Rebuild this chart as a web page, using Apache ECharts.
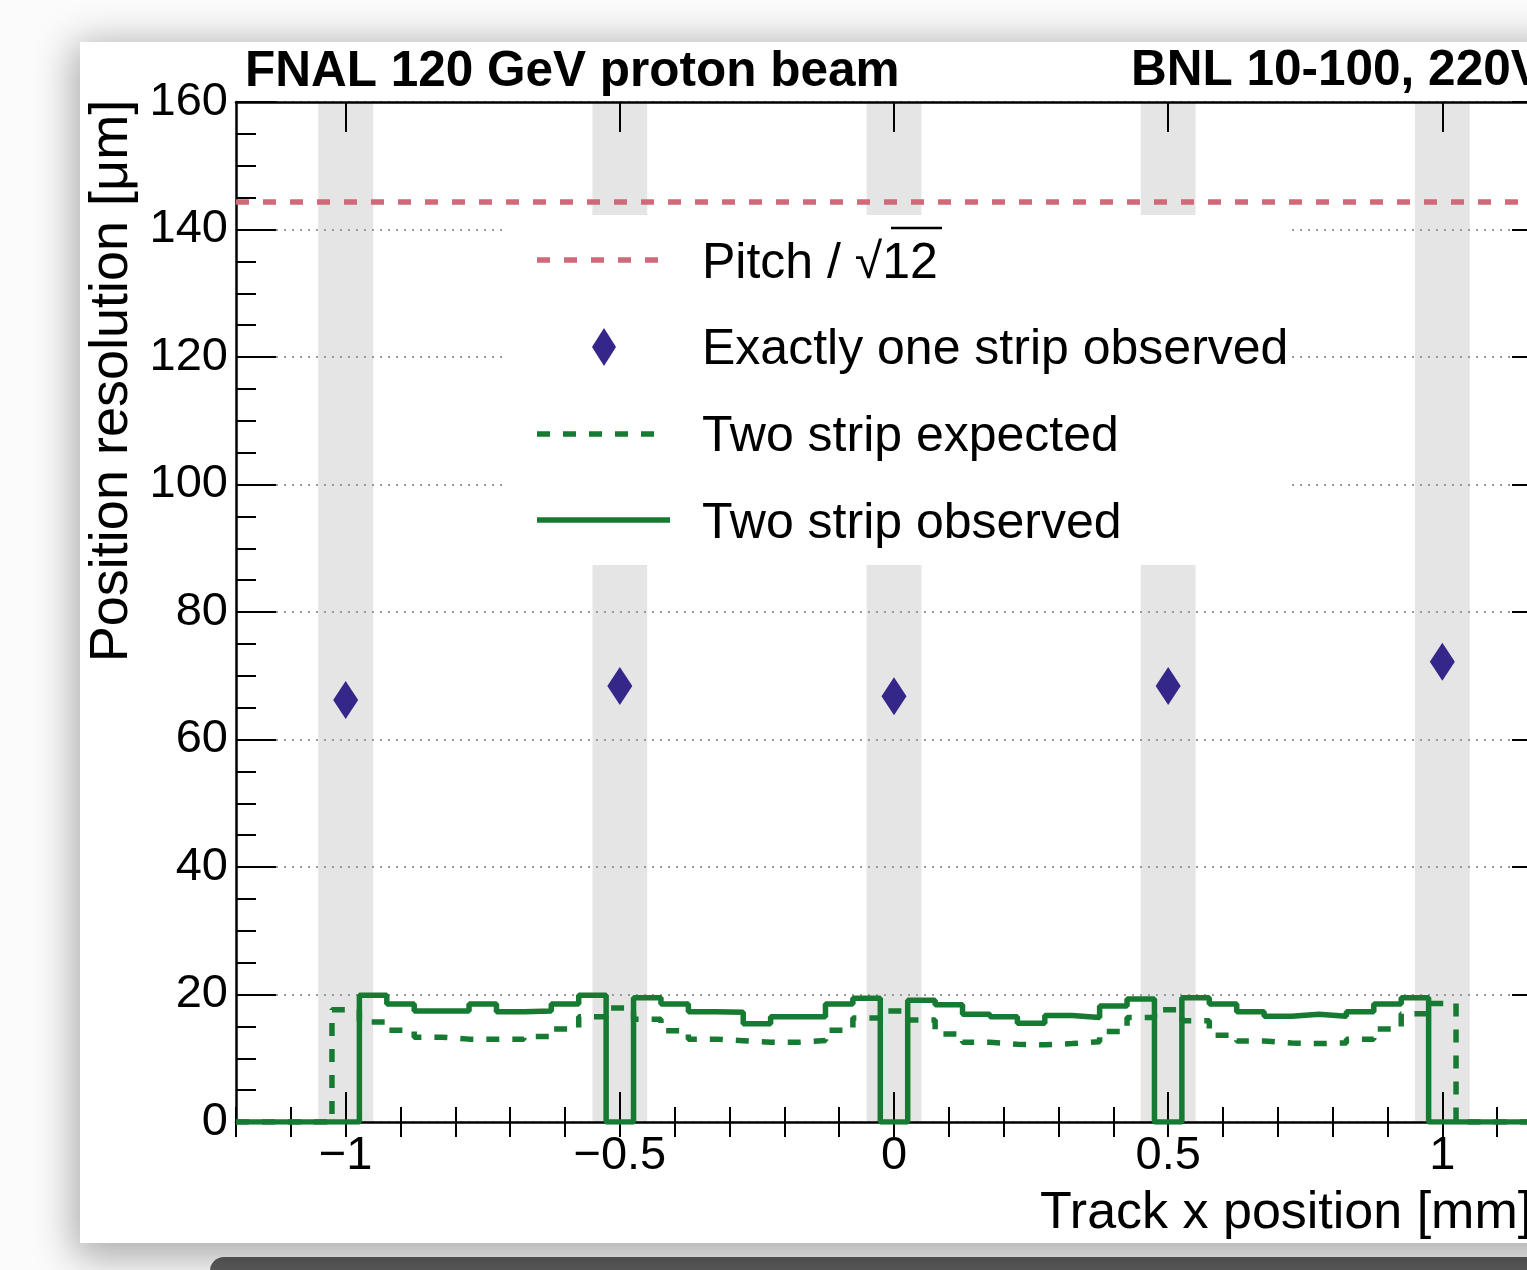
<!DOCTYPE html>
<html>
<head>
<meta charset="utf-8">
<script src="https://cdn.jsdelivr.net/npm/echarts@6/dist/echarts.min.js"></script>
<style>
html, body { margin:0; padding:0; overflow:hidden; width:1527px; height:1270px; background:#fbfbfb; }
.bar { position:absolute; left:210px; top:1257px; width:1400px; height:40px; background:#5d5d5d; border-radius:14px 0 0 0; }
.paper { position:absolute; left:80px; top:42px; width:1600px; height:1201px; background:#fff; box-shadow:0 8px 38px 6px rgba(0,0,0,0.33); }
#chart { position:absolute; left:0; top:0; width:1600px; height:1270px; }
</style>
</head>
<body>
<div class="bar"></div>
<div class="paper"></div>
<div id="chart"></div>
<script>
// strips and single strip resolution
var stripPos = [-1, -0.5, 0, 0.5, 1];
var oneStrip = [66.2, 68.4, 66.8, 68.4, 72.2];

// histogram bins (centres, mm)
var binCenters = [-1.00, -0.95, -0.90, -0.85, -0.80, -0.75, -0.70, -0.65, -0.60, -0.55,
  -0.50, -0.45, -0.40, -0.35, -0.30, -0.25, -0.20, -0.15, -0.10, -0.05,
  0.00, 0.05, 0.10, 0.15, 0.20, 0.25, 0.30, 0.35, 0.40, 0.45,
  0.50, 0.55, 0.60, 0.65, 0.70, 0.75, 0.80, 0.85, 0.90, 0.95, 1.00];

var twoObserved = [0, 19.9, 18.5, 17.4, 17.4, 18.5, 17.3, 17.4, 18.5, 19.9,
  0, 19.5, 18.5, 17.3, 17.2, 15.4, 16.5, 16.5, 18.5, 19.4,
  0, 19.1, 18.4, 16.9, 16.5, 15.5, 16.7, 16.4, 18.2, 19.3,
  0, 19.5, 18.5, 17.3, 16.6, 16.9, 16.6, 17.3, 18.5, 19.5, 0];

var twoExpected = [17.6, 15.7, 14.4, 13.3, 13.0, 13.0, 13.0, 13.4, 14.6, 16.5,
  17.9, 16.1, 14.3, 13.0, 12.75, 12.5, 12.5, 12.8, 14.4, 16.3,
  17.4, 16.0, 13.8, 12.5, 12.2, 12.1, 12.3, 12.6, 14.2, 16.4,
  17.6, 15.9, 13.6, 12.7, 12.4, 12.3, 12.4, 13.0, 14.6, 17.0, 18.6];

var pitchRes = 144.3;   // 500 um / sqrt(12)
var xMajor = [-1, -0.5, 0, 0.5, 1];

var xMin = -1.2, xMax = 1.2, yMin = 0, yMax = 160;
var binW = 0.05, stripHalf = 0.05;
var green = '#177a32';
var FONT = '"Liberation Sans", Arial, sans-serif';

function stepPoints(vals) {
  var pts = [[xMin, 0]];
  for (var i = 0; i < binCenters.length; i++) {
    pts.push([binCenters[i] - binW / 2, vals[i]]);
  }
  pts.push([binCenters[binCenters.length - 1] + binW / 2, 0]);
  pts.push([xMax, 0]);
  return pts;
}

function fmt(v) {
  if (v < 0) return '\u2212' + Math.abs(v);
  return '' + v;
}

var chart = echarts.init(document.getElementById('chart'), null, { renderer: 'canvas' });

var blackLine = { show: true, onZero: false, lineStyle: { color: '#000', width: 2.5 } };

var option = {
  backgroundColor: 'transparent',
  animation: false,
  grid: { left: 236, top: 102, width: 1316, height: 1020, containLabel: false },
  xAxis: [
    {
      type: 'value', position: 'bottom', min: xMin, max: xMax,
      axisLine: blackLine,
      axisTick: { show: true, inside: true, length: 30, customValues: xMajor, lineStyle: { color: '#000', width: 2 } },
      axisLabel: { show: true, customValues: xMajor, formatter: fmt, margin: 34, verticalAlign: 'middle',
        fontFamily: FONT, fontSize: 47, color: '#000' },
      splitLine: { show: false }
    },
    {
      type: 'value', position: 'bottom', min: xMin, max: xMax, interval: 0.1,
      axisLine: { show: false },
      axisTick: { show: true, inside: true, length: 15, lineStyle: { color: '#000', width: 2 } },
      axisLabel: { show: false },
      splitLine: { show: false }
    },
    {
      type: 'value', position: 'top', min: xMin, max: xMax,
      axisLine: blackLine,
      axisTick: { show: true, inside: true, length: 30, customValues: xMajor, lineStyle: { color: '#000', width: 2 } },
      axisLabel: { show: false },
      splitLine: { show: false }
    },
    {
      type: 'value', position: 'top', min: xMin, max: xMax, interval: 0.1,
      axisLine: { show: false },
      axisTick: { show: true, inside: true, length: 15, lineStyle: { color: '#000', width: 2 } },
      axisLabel: { show: false },
      splitLine: { show: false }
    }
  ],
  yAxis: [
    {
      type: 'value', position: 'left', min: yMin, max: yMax, interval: 20,
      axisLine: blackLine,
      axisTick: { show: true, inside: true, length: 40, lineStyle: { color: '#000', width: 2 } },
      minorTick: { show: true, splitNumber: 4, length: 20, lineStyle: { color: '#000', width: 2 } },
      axisLabel: { show: true, margin: 8, fontFamily: FONT, fontSize: 47, color: '#000' },
      splitLine: { show: true, lineStyle: { color: '#9a9a9a', width: 2, type: [2, 6] } }
    },
    {
      type: 'value', position: 'right', min: yMin, max: yMax, interval: 20,
      axisLine: blackLine,
      axisTick: { show: true, inside: true, length: 40, lineStyle: { color: '#000', width: 2 } },
      minorTick: { show: true, splitNumber: 4, length: 20, lineStyle: { color: '#000', width: 2 } },
      axisLabel: { show: false },
      splitLine: { show: false }
    }
  ],
  series: [
    {
      name: 'strips', type: 'custom', z: -1, silent: true,
      xAxisIndex: 0, yAxisIndex: 0,
      data: stripPos.map(function (v) { return [v, yMax]; }),
      renderItem: function (params, api) {
        var x = api.value(0);
        var p1 = api.coord([x - stripHalf, yMax]);
        var p2 = api.coord([x + stripHalf, yMin]);
        return { type: 'rect', shape: { x: p1[0], y: p1[1], width: p2[0] - p1[0], height: p2[1] - p1[1] },
          style: { fill: '#e5e5e5' } };
      }
    },
    {
      name: 'Pitch / √12', type: 'line', symbol: 'none',
      data: [[xMin, pitchRes], [xMax, pitchRes]],
      lineStyle: { color: '#d06a7a', width: 5.5, type: [13, 14] }
    },
    {
      name: 'Two strip expected', type: 'line', symbol: 'none', step: 'end',
      data: stepPoints(twoExpected),
      lineStyle: { color: green, width: 5.5, type: [13, 13] }
    },
    {
      name: 'Two strip observed', type: 'line', symbol: 'none', step: 'end',
      data: stepPoints(twoObserved),
      lineStyle: { color: green, width: 5.5, type: 'solid' }
    },
    {
      name: 'Exactly one strip observed', type: 'scatter', symbol: 'diamond', symbolSize: [25, 38],
      data: stripPos.map(function (x, i) { return [x, oneStrip[i]]; }),
      itemStyle: { color: '#35268a', opacity: 1 }
    }
  ],
  graphic: {
    elements: [
      // texts around the frame
      { type: 'text', x: 245, y: 72, z: 50,
        style: { text: 'FNAL 120 GeV proton beam', font: 'bold 49.5px ' + FONT, fill: '#000', align: 'left', verticalAlign: 'middle' } },
      { type: 'text', x: 1131, y: 71, z: 50,
        style: { text: 'BNL 10-100, 220V', font: 'bold 49.5px ' + FONT, fill: '#000', align: 'left', verticalAlign: 'middle' } },
      { type: 'text', x: 112, y: 381, z: 50, rotation: Math.PI / 2,
        style: { text: 'Position resolution [\u03bcm]', font: '54px ' + FONT, fill: '#000', align: 'center', verticalAlign: 'middle' } },
      { type: 'text', x: 1040, y: 1214, z: 50,
        style: { text: 'Track x position [mm]', font: '52px ' + FONT, fill: '#000', align: 'left', verticalAlign: 'middle' } },
      // legend
      { type: 'rect', z: 40, shape: { x: 505, y: 215, width: 783, height: 350 }, style: { fill: '#fff' } },
      { type: 'line', z: 50, shape: { x1: 537, y1: 260, x2: 660, y2: 260 },
        style: { stroke: '#d06a7a', lineWidth: 5.5, lineDash: [13, 14] } },
      { type: 'text', x: 702, y: 264, z: 50,
        style: { text: 'Pitch / \u221a12', font: '50px ' + FONT, fill: '#000', align: 'left', verticalAlign: 'middle' } },
      { type: 'line', z: 50, shape: { x1: 891, y1: 228, x2: 942, y2: 228 }, style: { stroke: '#000', lineWidth: 2.5 } },
      { type: 'polygon', z: 50, shape: { points: [[604, 328], [616, 347], [604, 366], [592, 347]] }, style: { fill: '#35268a' } },
      { type: 'text', x: 702, y: 350, z: 50,
        style: { text: 'Exactly one strip observed', font: '50px ' + FONT, fill: '#000', align: 'left', verticalAlign: 'middle' } },
      { type: 'line', z: 50, shape: { x1: 537, y1: 434, x2: 660, y2: 434 },
        style: { stroke: green, lineWidth: 5.5, lineDash: [13, 13] } },
      { type: 'text', x: 702, y: 437, z: 50,
        style: { text: 'Two strip expected', font: '50px ' + FONT, fill: '#000', align: 'left', verticalAlign: 'middle' } },
      { type: 'line', z: 50, shape: { x1: 537, y1: 520, x2: 670, y2: 520 },
        style: { stroke: green, lineWidth: 5.5 } },
      { type: 'text', x: 702, y: 524, z: 50,
        style: { text: 'Two strip observed', font: '50px ' + FONT, fill: '#000', align: 'left', verticalAlign: 'middle' } }
    ]
  }
};

chart.setOption(option);
</script>
</body>
</html>
